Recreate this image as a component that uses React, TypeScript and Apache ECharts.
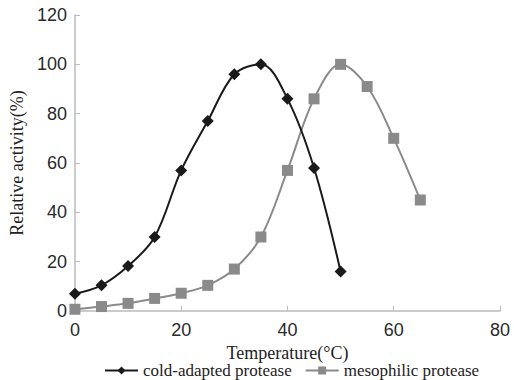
import React, { useEffect, useRef } from "react";
import * as echarts from "echarts";

const temperatures = [0, 5, 10, 15, 20, 25, 30, 35, 40, 45, 50, 55, 60, 65];
const coldAdapted = [7, 10.4, 18.2, 30, 57, 77, 96, 100, 86, 58, 16];
const mesophilic = [0.7, 1.8, 3.1, 5.1, 7.2, 10.4, 17, 30, 57, 86, 100, 91, 70, 45];
const seriesNames = ["cold-adapted protease", "mesophilic protease"];

export default function App() {
  const ref = useRef<HTMLDivElement>(null);
  useEffect(() => {
    if (!ref.current) return;
    const chart = echarts.init(ref.current, undefined, { renderer: "svg" });
    const coldData = coldAdapted.map((v, i) => [temperatures[i], v]);
    const mesoData = mesophilic.map((v, i) => [temperatures[i], v]);
    chart.setOption({
      animation: false,
      backgroundColor: "#ffffff",
      grid: { left: 70, right: 14, top: 15, bottom: 69 },
      legend: {
        left: 99,
        top: 357,
        padding: [5, 5, 5, 5],
        itemWidth: 33,
        itemHeight: 10,
        itemGap: 13,
        textStyle: { fontFamily: "Liberation Serif", fontSize: 17, color: "#222" },
        data: [seriesNames[0], seriesNames[1]],
      },
      xAxis: {
        type: "value",
        min: 0,
        max: 80,
        interval: 20,
        name: "Temperature(°C)",
        nameLocation: "middle",
        nameGap: 26,
        nameTextStyle: { fontFamily: "Liberation Serif", fontSize: 18, color: "#222" },
        axisLine: { lineStyle: { color: "#bbbbbb", width: 1.5 } },
        axisTick: { show: true, inside: true, length: 5, lineStyle: { color: "#bbbbbb" } },
        axisLabel: { fontFamily: "Liberation Sans", fontSize: 18, color: "#2a2a2a", margin: 10 },
        splitLine: { show: false },
      },
      yAxis: {
        type: "value",
        min: 0,
        max: 120,
        interval: 20,
        name: "Relative activity(%)",
        nameLocation: "middle",
        nameGap: 41,
        nameTextStyle: { fontFamily: "Liberation Serif", fontSize: 18, color: "#222" },
        axisLine: { show: true, lineStyle: { color: "#bbbbbb", width: 1.5 } },
        axisTick: { show: true, inside: true, length: 5, lineStyle: { color: "#bbbbbb" } },
        axisLabel: { fontFamily: "Liberation Sans", fontSize: 18, color: "#2a2a2a", margin: 8 },
        splitLine: { show: false },
      },
      series: [
        {
          name: seriesNames[0],
          type: "line",
          data: coldData,
          smooth: 0.35,
          symbol: "diamond",
          symbolSize: 12,
          lineStyle: { color: "#1a1a1a", width: 2 },
          itemStyle: { color: "#1a1a1a" },
          z: 3,
        },
        {
          name: seriesNames[1],
          type: "line",
          data: mesoData,
          smooth: 0.35,
          symbol: "rect",
          symbolSize: 11,
          lineStyle: { color: "#8a8a8a", width: 2 },
          itemStyle: { color: "#8a8a8a" },
          z: 2,
        },
      ],
    });
    return () => chart.dispose();
  }, []);
  return (
    <div
      ref={ref}
      style={{ position: "fixed", left: 0, top: 0, width: 514, height: 380, background: "#fff" }}
    />
  );
}
